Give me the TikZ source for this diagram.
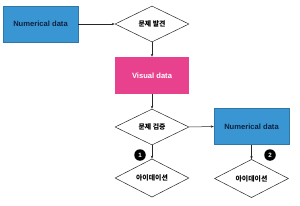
\documentclass[tikz,border=0pt]{standalone}
\usepackage{fontspec}
\setmainfont{Liberation Sans}
\newfontfamily\kr{Noto Sans CJK KR}
\usetikzlibrary{shapes.geometric,arrows.meta}
\definecolor{boxblue}{HTML}{3A95D3}
\definecolor{boxpink}{HTML}{E8428F}
\definecolor{navy}{HTML}{0D2340}
\begin{document}
\begin{tikzpicture}[x=1pt,y=-1pt,
  bluebox/.style={draw=boxblue!80!black,line width=0.4pt,fill=boxblue,minimum width=75pt,minimum height=36pt,inner sep=0pt,font=\bfseries\fontsize{7.6}{8}\selectfont,text=navy},
  pinkbox/.style={draw=none,fill=boxpink,minimum width=74pt,minimum height=37pt,inner sep=0pt,font=\bfseries\fontsize{7.6}{8}\selectfont,text=white},
  dia/.style={draw=black!85,line width=0.5pt,shape=diamond,minimum width=74pt,minimum height=36pt,inner sep=0pt,font=\kr\bfseries\fontsize{6.9}{8}\selectfont},
  badge/.style={circle,fill=black,text=white,minimum size=11.5pt,inner sep=0pt,font=\bfseries\fontsize{6.2}{7}\selectfont},
  conn/.style={draw=black!85,line width=0.5pt,-{Stealth[length=3pt,width=2.4pt]}}]
\useasboundingbox (0,0) rectangle (300,206);
\node[bluebox] (n1) at (40.5,24) {Numerical data};
\node[dia] (d1) at (152,24) {문제 발견};
\node[pinkbox] (v) at (152,75.5) {Visual data};
\node[dia] (d2) at (152,127) {문제 검증};
\node[bluebox] (n2) at (251.5,126.5) {Numerical data};
\node[dia] (d3) at (152,178) {아이데이션};
\node[dia] (d4) at (251.5,178.5) {아이데이션};
\node[badge] (b1) at (140,155) {1};
\node[badge] (b2) at (270,155) {2};
\draw[conn] (n1.east) -- (d1.west);
\draw[conn] (d1.south) -- (v.north);
\draw[conn] (v.south) -- (d2.north);
\draw[conn] (d2.east) -- (n2.west);
\draw[conn] (d2.south) -- (d3.north);
\draw[conn] (n2.south) -- (d4.north);
\end{tikzpicture}
\end{document}
